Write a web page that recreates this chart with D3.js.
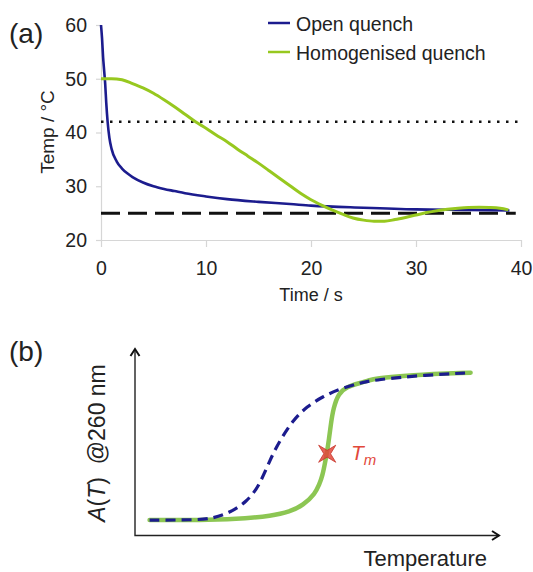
<!DOCTYPE html>
<html>
<head>
<meta charset="utf-8">
<script src="https://cdn.jsdelivr.net/npm/d3@7"></script>
<style>
html,body{margin:0;padding:0;background:#fff;}
svg{display:block;font-family:"Liberation Sans",Arial,Helvetica,sans-serif;}
</style>
</head>
<body>
<div id="chart"></div>
<script>
// ---------- Panel (a) data ----------
const timeTicks = [0, 10, 20, 30, 40];
const tempTicks = [20, 30, 40, 50, 60];
const seriesNames = ["Open quench", "Homogenised quench"];
const openQuench = [
  [0,60],[0.1,57.5],[0.2,54],[0.3,51.5],[0.4,49],[0.5,45.5],[0.63,42],[0.8,39],[1,37],
  [1.5,34.6],[2,33.3],[2.5,32.4],[3,31.7],[4,30.7],[5,30],[6,29.5],[7,29.1],[8,28.7],
  [10,28.1],[12,27.6],[15,27.1],[18,26.7],[20,26.4],[25,26],[30,25.7],[35,25.6],[38.9,25.5]
];
const homogenisedQuench = [
  [0,50],[1,50],[2,49.8],[3,49.1],[4,48.3],[5,47.3],[6,46.1],[7,44.8],[8,43.4],[9,42],
  [10,40.8],[11,39.5],[12,38.3],[13,36.9],[14,35.6],[15,34.3],[16,32.9],[17,31.5],[18,30.1],
  [19,28.7],[20,27.5],[21,26.5],[22,25.6],[23,24.8],[24,24.1],[25,23.7],[26,23.5],[27,23.5],
  [28,23.8],[29,24.2],[30,24.65],[31,25.1],[32,25.45],[33,25.7],[34,25.9],[35,26.05],[36,26.1],
  [37,26.05],[38,25.9],[38.8,25.6]
];
const dottedRef = {t0: 0, t1: 40, temp: 42};
const dashedRef = {t0: 0, t1: 39.5, temp: 25};

// ---------- Panel (b) data ----------
const sharpMelt = [
  [4,0],[21.4,0],[30.7,0.012],[37.1,0.027],[42.6,0.056],[46.2,0.10],[49.5,0.18],[50.6,0.24],
  [51.5,0.30],[52.3,0.40],[52.8,0.47],[53.3,0.55],[53.8,0.65],[54.5,0.76],[55.9,0.86],
  [58.2,0.905],[61.8,0.93],[64.1,0.946],[65.9,0.962],[75.3,0.984],[92.2,1.0]
];
const broadMelt = [
  [4,0],[17,0],[21.5,0.012],[26.1,0.05],[30.7,0.124],[34.1,0.23],[37.1,0.41],[39.8,0.54],
  [43.5,0.68],[47.2,0.77],[51.7,0.84],[56.3,0.89],[61.8,0.93],[65.9,0.952],[79.9,0.985],[92.2,1.0]
];
const meltPoint = {temp: 52.8, abs: 0.45};

const W = 533, H = 572;
const svg = d3.select("#chart").append("svg").attr("width", W).attr("height", H);

const blue = "#1c1c8e", greenA = "#97c81f", greenB = "#8cc653", red = "#e2483b", txt = "#222";

// ================= Panel (a) =================
const xA = d3.scaleLinear().domain([0, 40]).range([101, 521]);
const yA = d3.scaleLinear().domain([20, 60]).range([240, 25]);
const gA = svg.append("g");

const axX = gA.append("g").attr("transform", `translate(0,${yA(20)})`)
  .call(d3.axisBottom(xA).tickValues(timeTicks).tickSize(7).tickSizeOuter(0).tickPadding(14).tickFormat(d3.format("d")));
const axY = gA.append("g").attr("transform", `translate(${xA(0)},0)`)
  .call(d3.axisLeft(yA).tickValues(tempTicks).tickSize(5).tickSizeOuter(0).tickPadding(9).tickFormat(d3.format("d")));
[axX, axY].forEach(a => {
  a.select(".domain").attr("stroke", "#d6d6d6").attr("stroke-width", 1.2);
  a.selectAll(".tick line").attr("stroke", "#d6d6d6").attr("stroke-width", 1.2);
  a.selectAll(".tick text").attr("fill", txt).style("font-size", "19.5px").style("font-family", "Liberation Sans, Arial, sans-serif");
});

// reference lines
gA.append("line").attr("x1", xA(dottedRef.t0)).attr("x2", xA(dottedRef.t1))
  .attr("y1", yA(dottedRef.temp)).attr("y2", yA(dottedRef.temp))
  .attr("stroke", "#111").attr("stroke-width", 2.5).attr("stroke-dasharray", "2.5,6.5");
gA.append("line").attr("x1", xA(dashedRef.t0)).attr("x2", xA(dashedRef.t1))
  .attr("y1", yA(dashedRef.temp)).attr("y2", yA(dashedRef.temp))
  .attr("stroke", "#111").attr("stroke-width", 3).attr("stroke-dasharray", "19,8");

const lineA = d3.line().x(d => xA(d[0])).y(d => yA(d[1])).curve(d3.curveMonotoneX);
gA.append("path").datum(openQuench).attr("d", lineA).attr("fill", "none")
  .attr("stroke", blue).attr("stroke-width", 2.6).attr("stroke-linejoin", "round");
gA.append("path").datum(homogenisedQuench).attr("d", lineA).attr("fill", "none")
  .attr("stroke", greenA).attr("stroke-width", 3).attr("stroke-linejoin", "round");

// legend
const legend = gA.append("g");
[[seriesNames[0], blue, 23, 31], [seriesNames[1], greenA, 52, 60]].forEach(([name, col, ly, ty]) => {
  legend.append("line").attr("x1", 268).attr("x2", 290).attr("y1", ly).attr("y2", ly)
    .attr("stroke", col).attr("stroke-width", 2.5);
  legend.append("text").attr("x", 296).attr("y", ty).attr("fill", txt)
    .style("font-size", "19.5px").text(name);
});

// axis titles
gA.append("text").attr("x", 311).attr("y", 301).attr("text-anchor", "middle")
  .attr("fill", txt).style("font-size", "18px").text("Time / s");
gA.append("text").attr("transform", "translate(54,132) rotate(-90)").attr("text-anchor", "middle")
  .attr("fill", txt).style("font-size", "19px").text("Temp / °C");
gA.append("text").attr("x", 9).attr("y", 43).attr("fill", txt).style("font-size", "28px").text("(a)");

// ================= Panel (b) =================
const xB = d3.scaleLinear().domain([0, 100]).range([135, 499]);
const yB = d3.scaleLinear().domain([-0.105, 1.161]).range([535.5, 349]);
const gB = svg.append("g");

// axes with open arrowheads
const x0 = xB(0), y0 = yB(-0.105), xTop = yB(1.161), xEnd = xB(100);
gB.append("path").attr("d", `M${x0},${xTop}V${y0}H${xEnd}`).attr("fill", "none")
  .attr("stroke", "#222").attr("stroke-width", 1.4);
gB.append("path").attr("d", `M${x0-4.5},${xTop+7}L${x0},${xTop}L${x0+4.5},${xTop+7}`)
  .attr("fill", "none").attr("stroke", "#111").attr("stroke-width", 2).attr("stroke-linejoin", "miter");
gB.append("path").attr("d", `M${xEnd-7},${y0-4.5}L${xEnd},${y0}L${xEnd-7},${y0+4.5}`)
  .attr("fill", "none").attr("stroke", "#111").attr("stroke-width", 2).attr("stroke-linejoin", "miter");

const lineB = d3.line().x(d => xB(d[0])).y(d => yB(d[1])).curve(d3.curveBasis);
gB.append("path").datum(sharpMelt).attr("d", lineB).attr("fill", "none")
  .attr("stroke", greenB).attr("stroke-width", 4.5).attr("stroke-linecap", "round");
gB.append("path").datum(broadMelt).attr("d", lineB).attr("fill", "none")
  .attr("stroke", blue).attr("stroke-width", 3.2).attr("stroke-dasharray", "10,6");

// Tm star marker (4-pointed)
const star4 = {
  draw(ctx, size) {
    const R = Math.sqrt(size) * 0.75, r = R * 0.28;
    for (let i = 0; i < 8; i++) {
      const a = Math.PI / 4 + i * Math.PI / 4;
      const rad = i % 2 === 0 ? R : r;
      const px = rad * Math.cos(a), py = rad * Math.sin(a);
      if (i === 0) ctx.moveTo(px, py); else ctx.lineTo(px, py);
    }
    ctx.closePath();
  }
};
gB.append("path").attr("d", d3.symbol().type(star4).size(260)())
  .attr("transform", `translate(${xB(meltPoint.temp)},${yB(meltPoint.abs)})`)
  .attr("fill", red).attr("fill-opacity", 0.85).attr("stroke", "#c8362c").attr("stroke-width", 0.8);

const tm = gB.append("text").attr("x", 351).attr("y", 460).attr("fill", red).style("font-size", "21px");
tm.append("tspan").style("font-style", "italic").text("T");
tm.append("tspan").attr("dy", 5).style("font-size", "15px").style("font-style", "italic").text("m");

// labels
const yl = gB.append("text").attr("transform", "translate(105,443) rotate(-90)").attr("text-anchor", "middle")
  .attr("fill", txt).style("font-size", "23px").attr("xml:space", "preserve");
yl.append("tspan").style("font-style", "italic").text("A");
yl.append("tspan").text("(");
yl.append("tspan").style("font-style", "italic").text("T");
yl.append("tspan").text(")\u00a0\u00a0@260 nm");
gB.append("text").attr("x", 487).attr("y", 566).attr("text-anchor", "end")
  .attr("fill", txt).style("font-size", "22px").text("Temperature");
gB.append("text").attr("x", 9).attr("y", 361).attr("fill", txt).style("font-size", "28px").text("(b)");
</script>
</body>
</html>
